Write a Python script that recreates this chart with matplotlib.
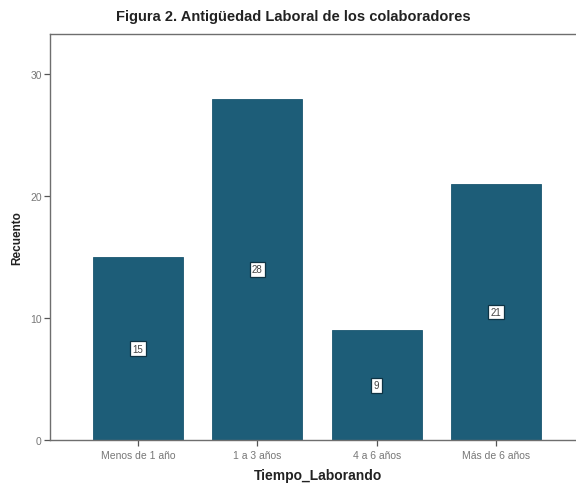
import matplotlib
matplotlib.use("Agg")
import matplotlib.pyplot as plt
import numpy as np

# antigüedad laboral: recuento por categoría
categorias = ["Menos de 1 año", "1 a 3 años", "4 a 6 años", "Más de 6 años"]
recuento = [15, 28, 9, 21]

plt.rcParams['font.family'] = ['Liberation Sans', 'DejaVu Sans']

fig = plt.figure(figsize=(5.76, 4.89), dpi=100)
ax = fig.add_axes([50 / 576, 1 - 441 / 489, 1 - 50 / 576, (441 - 35) / 489])

x = np.arange(len(categorias))
ax.bar(x, recuento, width=0.754, color='#1d5d78', edgecolor='#1a5670', linewidth=0.6, zorder=2)

# etiqueta del valor en el centro de cada barra
for xi, v in zip(x, recuento):
    ax.text(xi, v / 2, str(v), ha='center', va='center', fontsize=7, color='#444444',
            bbox=dict(boxstyle='square,pad=0.25', facecolor='white', edgecolor='#0e3344', linewidth=0.9),
            zorder=3)

ax.set_xlim(-0.737, 3.67)
ax.set_ylim(0, 33.3)
ax.set_yticks([0, 10, 20, 30])
ax.set_xticks(x)
ax.set_xticklabels(categorias)

ax.spines['right'].set_visible(False)
for s in ('left', 'top', 'bottom'):
    ax.spines[s].set_color('#6e6e6e')
    ax.spines[s].set_linewidth(1.0)

ax.tick_params(axis='both', labelsize=7.5, labelcolor='#777777', color='#555555', length=4, width=0.9, pad=2)
ax.tick_params(axis='x', length=4, pad=3)

ax.set_ylabel('Recuento', fontsize=8.5, fontweight='bold', color='#222222')
ax.yaxis.set_label_coords(-27 / 526, 0.5)
ax.set_xlabel('Tiempo_Laborando', fontsize=10, fontweight='bold', color='#222222')
ax.xaxis.set_label_coords(0.51, -0.068)
fig.text(293 / 576, 1 - 17 / 489, 'Figura 2. Antigüedad Laboral de los colaboradores', ha='center', va='center',
         fontsize=10.5, fontweight='bold', color='#222222')

fig.savefig('out.png', dpi=100)
